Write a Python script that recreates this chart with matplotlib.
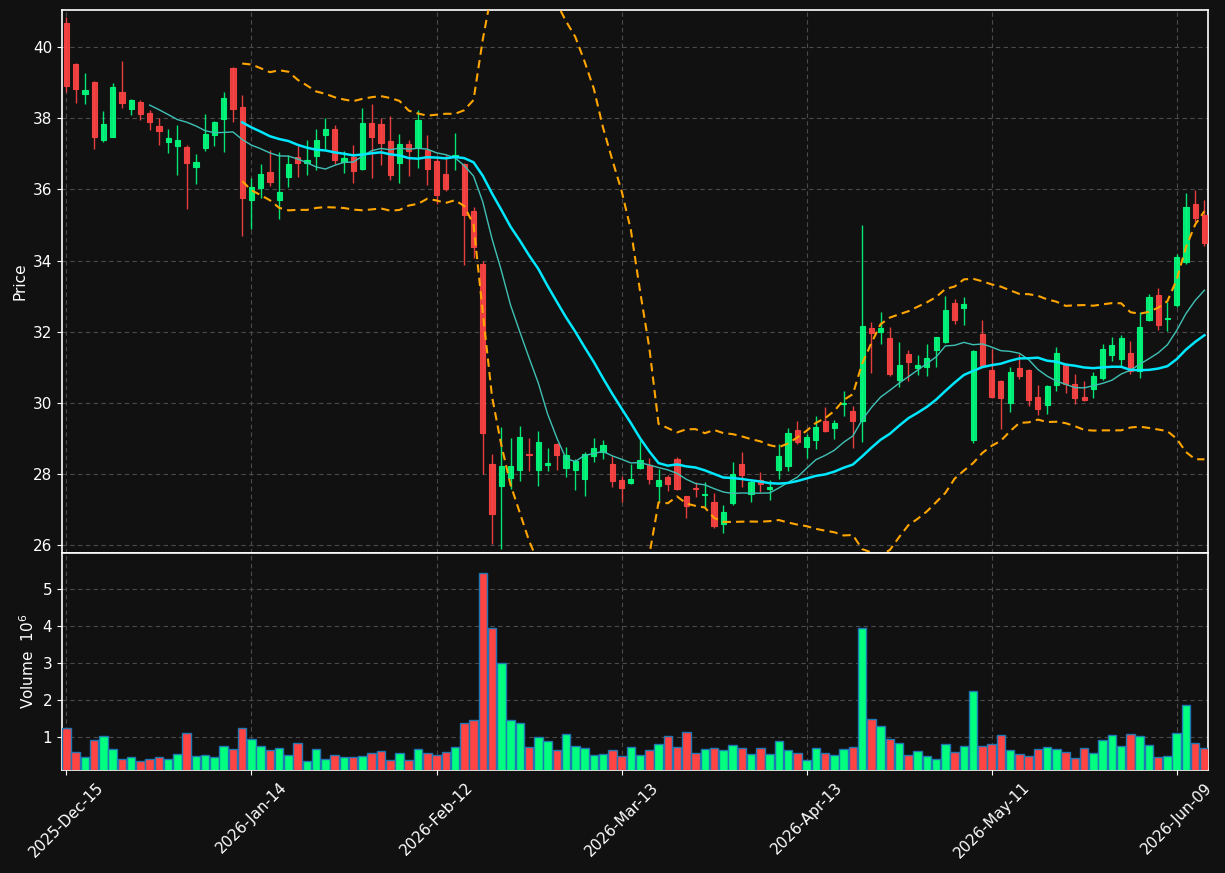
import numpy as np
import pandas as pd
import matplotlib
matplotlib.use("Agg")
import matplotlib.pyplot as plt
from pandas.tseries.offsets import CustomBusinessDay

# ---- data ----
holidays = ["2025-12-25", "2026-01-01", "2026-01-19", "2026-02-16", "2026-04-03", "2026-05-25"]
opens = [40.67, 39.52, 38.69, 39.02, 37.39, 37.48, 38.73, 38.27, 38.45, 38.14,
         37.78, 37.33, 37.22, 37.19, 36.63, 37.17, 37.53, 37.98, 39.41, 38.31,
         35.71, 36.04, 36.49, 35.71, 36.35, 36.91, 36.75, 36.94, 37.53, 37.69,
         36.77, 36.91, 36.58, 37.86, 37.84, 37.36, 36.75, 37.27, 37.18, 37.10,
         36.80, 36.43, 36.90, 36.71, 35.39, 33.90, 28.28, 27.67, 27.89, 28.12,
         28.58, 28.12, 28.26, 28.85, 28.17, 28.12, 27.87, 28.51, 28.64, 28.30,
         27.83, 27.75, 28.17, 28.26, 27.67, 27.91, 28.44, 27.38, 27.62, 27.41,
         27.21, 26.60, 27.19, 28.28, 27.44, 27.83, 27.58, 28.12, 28.23, 29.25,
         28.76, 28.95, 29.49, 29.30, 29.98, 29.77, 29.49, 32.10, 32.00, 31.82,
         30.64, 31.37, 30.99, 31.01, 31.49, 31.72, 32.80, 32.67, 28.95, 31.93,
         30.92, 30.61, 30.00, 30.98, 30.92, 30.16, 29.94, 30.51, 31.07, 30.53,
         30.16, 30.39, 30.70, 31.34, 31.25, 31.40, 30.90, 32.33, 33.03, 32.36,
         32.76, 33.95, 35.60, 35.28]
highs = [40.85, 39.56, 39.26, 39.04, 38.20, 39.00, 39.60, 38.55, 38.50, 38.23,
         38.00, 37.69, 37.80, 37.26, 37.01, 38.12, 37.93, 38.75, 39.43, 38.65,
         36.31, 36.71, 37.10, 37.04, 36.96, 37.24, 37.40, 37.71, 38.00, 37.81,
         37.08, 37.24, 38.30, 38.39, 38.00, 38.06, 37.56, 37.39, 38.23, 37.53,
         36.87, 36.96, 37.59, 36.75, 35.51, 33.98, 28.58, 29.32, 29.03, 29.37,
         29.03, 29.22, 28.75, 28.87, 28.77, 28.44, 28.63, 29.03, 28.97, 28.50,
         27.94, 28.29, 28.95, 28.46, 28.16, 27.99, 28.48, 27.40, 27.78, 27.79,
         27.47, 27.14, 28.35, 28.63, 27.83, 28.06, 27.83, 28.86, 29.31, 29.50,
         29.14, 29.65, 29.89, 29.53, 30.35, 29.93, 35.00, 32.27, 32.57, 32.14,
         31.72, 31.48, 31.36, 31.67, 31.87, 33.00, 32.92, 32.99, 31.50, 32.33,
         31.53, 30.65, 31.02, 31.39, 30.95, 30.50, 30.50, 31.57, 31.12, 30.83,
         30.63, 30.87, 31.65, 31.87, 31.92, 31.75, 32.56, 33.06, 33.22, 32.83,
         34.20, 35.90, 35.98, 35.70]
lows = [38.73, 38.42, 38.39, 37.13, 37.34, 37.46, 38.30, 38.10, 37.95, 37.66,
        37.24, 37.03, 36.42, 35.44, 36.14, 37.08, 37.21, 37.04, 37.90, 34.70,
        34.88, 35.75, 36.10, 35.16, 36.06, 36.35, 36.42, 36.56, 37.15, 36.71,
        36.45, 36.17, 36.56, 36.33, 36.70, 36.28, 36.17, 36.39, 36.59, 36.12,
        35.58, 35.96, 36.56, 33.89, 34.08, 28.01, 26.05, 25.91, 27.59, 27.80,
        28.08, 27.67, 28.08, 28.13, 27.93, 27.55, 27.39, 28.34, 28.44, 27.64,
        27.22, 27.73, 28.15, 27.73, 27.25, 27.53, 27.55, 26.78, 27.36, 27.09,
        26.50, 26.35, 27.15, 27.64, 27.23, 27.50, 27.28, 27.87, 28.09, 28.85,
        28.46, 28.72, 29.18, 29.00, 29.65, 28.75, 28.90, 30.85, 31.67, 30.76,
        30.45, 30.62, 30.80, 30.76, 31.01, 31.70, 32.22, 32.19, 28.88, 31.00,
        30.15, 29.28, 29.75, 30.67, 29.91, 29.67, 29.70, 30.34, 30.28, 29.98,
        30.06, 30.15, 30.65, 31.18, 31.04, 30.82, 30.71, 32.30, 32.06, 32.02,
        32.70, 33.90, 35.10, 34.40]
closes = [38.91, 38.83, 38.79, 37.48, 37.84, 38.88, 38.43, 38.51, 38.12, 37.90,
          37.64, 37.44, 37.39, 36.75, 36.77, 37.55, 37.89, 38.57, 38.27, 35.76,
          36.06, 36.43, 36.21, 35.92, 36.71, 36.75, 36.82, 37.39, 37.69, 36.82,
          36.88, 36.52, 37.86, 37.47, 37.31, 36.41, 37.27, 37.08, 37.95, 36.58,
          35.84, 36.01, 36.96, 35.29, 34.39, 29.16, 26.88, 28.22, 28.22, 29.06,
          28.55, 28.92, 28.31, 28.53, 28.53, 28.38, 28.58, 28.75, 28.81, 27.81,
          27.61, 27.88, 28.39, 27.86, 27.83, 27.72, 27.59, 27.10, 27.60, 27.46,
          26.54, 26.93, 28.00, 27.98, 27.77, 27.73, 27.65, 28.50, 29.17, 28.90,
          29.06, 29.33, 29.21, 29.43, 30.00, 29.51, 32.16, 31.97, 32.11, 30.81,
          31.06, 31.15, 31.06, 31.28, 31.85, 32.61, 32.33, 32.79, 31.45, 31.04,
          30.17, 30.14, 30.86, 30.75, 30.08, 29.83, 30.47, 31.40, 30.53, 30.13,
          30.08, 30.77, 31.51, 31.62, 31.82, 30.90, 32.13, 32.97, 32.18, 32.40,
          34.10, 35.50, 35.20, 34.50]
volumes_m = [1.23, 0.58, 0.45, 0.91, 1.01, 0.68, 0.41, 0.45, 0.34, 0.39,
             0.45, 0.39, 0.53, 1.10, 0.47, 0.50, 0.45, 0.74, 0.68, 1.23,
             0.94, 0.76, 0.64, 0.71, 0.50, 0.83, 0.34, 0.68, 0.41, 0.50,
             0.45, 0.45, 0.47, 0.565, 0.62, 0.365, 0.565, 0.365, 0.665, 0.565,
             0.50, 0.59, 0.72, 1.37, 1.45, 5.45, 3.96, 3.00, 1.45, 1.37,
             0.72, 0.99, 0.88, 0.64, 1.07, 0.75, 0.69, 0.50, 0.53, 0.64,
             0.47, 0.72, 0.50, 0.64, 0.80, 1.02, 0.72, 1.13, 0.565, 0.665,
             0.69, 0.64, 0.77, 0.69, 0.53, 0.69, 0.53, 0.88, 0.64, 0.565,
             0.365, 0.69, 0.565, 0.50, 0.665, 0.72, 3.96, 1.48, 1.29, 0.94,
             0.83, 0.50, 0.61, 0.47, 0.39, 0.80, 0.58, 0.75, 2.24, 0.75,
             0.80, 1.05, 0.64, 0.53, 0.47, 0.665, 0.72, 0.665, 0.58, 0.42,
             0.69, 0.565, 0.91, 1.05, 0.75, 1.07, 1.02, 0.77, 0.45, 0.47,
             1.10, 1.86, 0.83, 0.69]
mav_periods = [10, 20]
bb_period = 20
bb_k = 2.0

# ---- derived ----
n = len(closes)
bday = CustomBusinessDay(holidays=pd.to_datetime(holidays))
dates = pd.date_range("2025-12-15", periods=n, freq=bday)
df = pd.DataFrame({"Open": opens, "High": highs, "Low": lows, "Close": closes,
                   "Volume": volumes_m}, index=dates)
x = np.arange(n)
up = df["Close"].values >= df["Open"].values

BG = "#111111"
UP = "#00ff7f"
DN = "#ff4444"

fig = plt.figure(figsize=(12.25, 8.73), dpi=100, facecolor=BG)
ax = fig.add_axes([0.0506, 0.367, 0.9354, 0.6215], facecolor=BG)
axv = fig.add_axes([0.0506, 0.118, 0.9354, 0.249], facecolor=BG, sharex=ax)

# candles
body_lo = np.minimum(df["Open"], df["Close"]).values
body_h = np.abs(df["Close"] - df["Open"]).values
ccol = np.where(up, UP, DN)
ax.vlines(x, df["Low"], df["High"], colors=ccol, linewidth=1.0, alpha=0.9, zorder=3)
ax.bar(x, body_h, bottom=body_lo, width=0.56, color=ccol, edgecolor=ccol,
       linewidth=0.8, alpha=0.9, zorder=4)

# moving averages
ma10 = df["Close"].rolling(mav_periods[0]).mean()
ma20 = df["Close"].rolling(mav_periods[1]).mean()
ax.plot(x, ma10, color="#3fc1b5", linewidth=1.0, zorder=5)
ax.plot(x, ma20, color="#00e8ff", linewidth=1.8, zorder=5)

# bollinger bands
mid = df["Close"].rolling(bb_period).mean()
sd = df["Close"].rolling(bb_period).std()
ax.plot(x, mid + bb_k * sd, color="#ffa500", linestyle=(0, (4, 2.5)), linewidth=1.5, zorder=5)
ax.plot(x, mid - bb_k * sd, color="#ffa500", linestyle=(0, (4, 2.5)), linewidth=1.5, zorder=5)

# volume
vcol = np.where(up, UP, DN)
axv.bar(x, df["Volume"], width=0.92, color=vcol, edgecolor="#1f77b4", linewidth=1.0, zorder=3)

# limits
ax.set_xlim(-0.48, n - 1 + 0.37)
ax.set_ylim(25.8, 41.04)
axv.set_ylim(0.3 * min(volumes_m), 1.1 * max(volumes_m))

tick_idx = list(range(0, n, 20))
axv.set_xticks(tick_idx)
axv.set_xticklabels([dates[i].strftime("%Y-%b-%d") for i in tick_idx],
                    rotation=45, ha="center", color="white", fontsize=11)
plt.setp(ax.get_xticklabels(), visible=False)
ax.set_yticks(np.arange(26, 41, 2))
axv.set_yticks([1, 2, 3, 4, 5])

for a in (ax, axv):
    a.grid(True, color="#4a4a4a", linestyle=(0, (4, 3)), linewidth=0.8, zorder=0)
    a.set_axisbelow(True)
    for s in a.spines.values():
        s.set_color("white")
        s.set_linewidth(1.2)
    a.tick_params(colors="white", labelsize=11)

ax.set_ylabel("Price", color="white", fontsize=11)
axv.set_ylabel("Volume  $10^{6}$", color="white", fontsize=11)

fig.savefig("out.png", dpi=100, facecolor=BG)
